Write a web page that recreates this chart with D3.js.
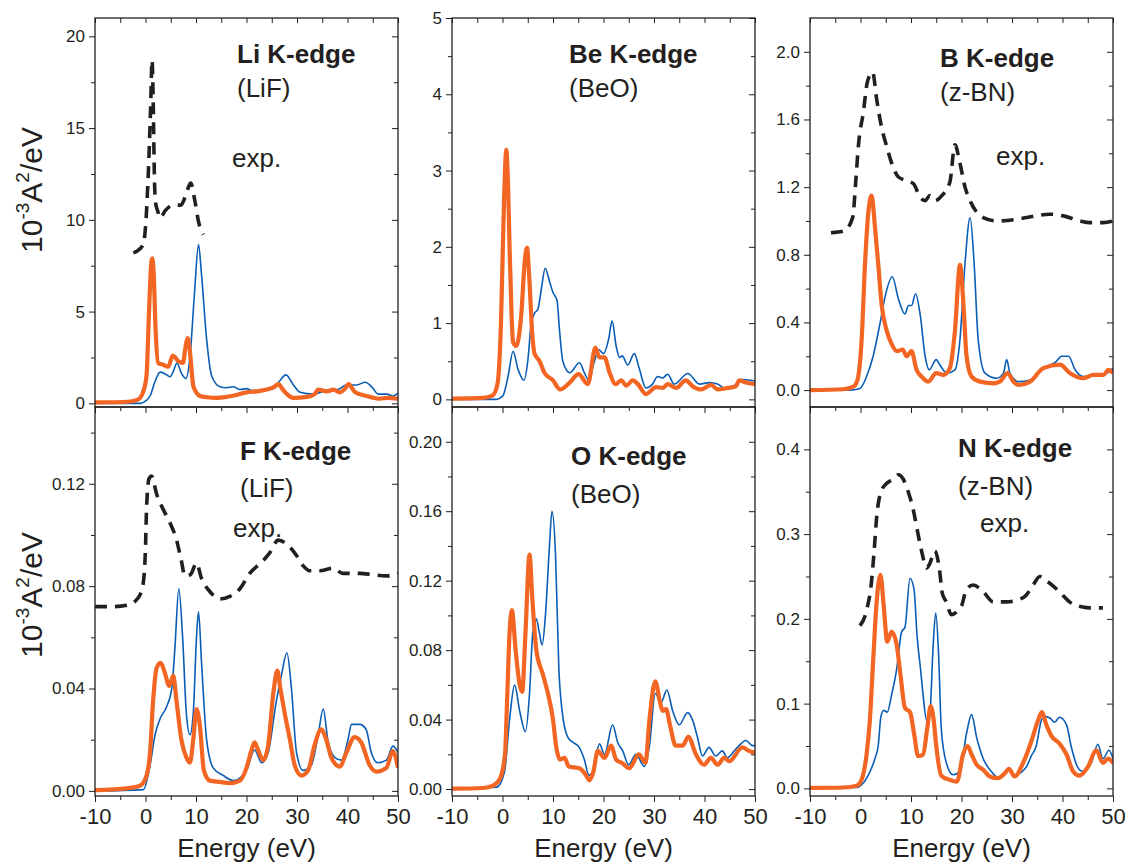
<!DOCTYPE html>
<html>
<head>
<meta charset="utf-8">
<script src="https://cdn.jsdelivr.net/npm/d3@7"></script>
<style>
  body { margin: 0; background: #fff; }
  svg { display: block; font-family: "Liberation Sans", Arial, sans-serif; }
</style>
</head>
<body>
<div id="chart"></div>
<script>
// energy axis (eV) shared by all panels
const energyDomain = [-10, 50];
const energyMajor = [-10, 0, 10, 20, 30, 40, 50];
const energyMinor = [-5, 5, 15, 25, 35, 45];

// Li K-edge (LiF)
const liTheory = [[-10,0.05],[-6,0.06],[-3,0.1],[-1.5,0.2],[-0.5,0.6],[0.2,1.5],[0.7,5],[1.1,7.5],[1.35,7.9],[1.6,7.2],[2.0,4],[2.5,2.2],[3.5,2.1],[4.5,2.0],[5.4,2.6],[6.5,2.3],[7.4,2.2],[8.0,3.2],[8.35,3.55],[8.8,2.8],[9.5,0.9],[10.8,0.4],[12.1,0.33],[14,0.3],[16,0.35],[18,0.45],[20,0.6],[22,0.65],[24,0.75],[25.5,0.9],[26.3,1.05],[27.2,0.75],[28,0.5],[29.3,0.3],[32,0.35],[33.5,0.5],[34.2,0.75],[35.9,0.65],[37.2,0.75],[38.5,0.6],[39.5,0.8],[40.2,1.05],[41.5,0.6],[43.8,0.4],[46.4,0.25],[47.8,0.3],[50,0.25]];
const liCore = [[-10,0],[-1,0],[-0.4,0.05],[0.9,0.4],[1.9,1.2],[2.9,1.7],[3.9,1.6],[4.85,1.45],[5.6,1.8],[6.2,2.2],[7.2,1.6],[8.0,1.35],[8.8,2.5],[9.7,6],[10.5,8.65],[11.1,7],[12.1,3.5],[13.1,1.5],[14.75,0.9],[16,0.85],[17.4,0.9],[18.7,0.75],[20,0.8],[21,0.7],[22.7,0.7],[25.3,0.8],[26.5,1.2],[27.8,1.55],[29.3,1.0],[30.6,0.6],[33.2,0.5],[35.9,0.7],[38,0.75],[39.8,1.0],[41.8,1.0],[43.5,1.15],[44.8,0.9],[46.1,0.5],[47.8,0.5],[49,0.4],[50,0.55]];
const liExp = [[-2.4,8.2],[-1.2,8.4],[-0.4,8.7],[0.1,10],[0.55,12.5],[1.0,16],[1.3,18.7],[1.55,16],[1.75,12.5],[1.95,11],[2.4,10.5],[2.9,10.1],[3.9,10.5],[5.5,10.8],[7,10.8],[7.8,11.2],[8.95,12.0],[9.8,11],[10.5,9.9],[11.45,9.2]];

// Be K-edge (BeO)
const beTheory = [[-10,0.01],[-4,0.02],[-2,0.05],[-1,0.2],[-0.3,1.0],[0.3,2.6],[0.75,3.27],[1.1,2.8],[1.4,2.0],[1.8,1.1],[2.1,0.75],[2.7,0.7],[3.7,1.1],[4.4,1.8],[4.85,1.99],[5.3,1.6],[5.9,0.85],[6.35,0.6],[7.35,0.5],[8.3,0.35],[10,0.25],[11.4,0.13],[13.3,0.22],[15.05,0.33],[16.9,0.2],[18.4,0.68],[19.2,0.55],[20.2,0.55],[21.2,0.35],[22.4,0.2],[23.5,0.25],[24.5,0.18],[25.8,0.25],[26.8,0.2],[28.4,0.07],[30.4,0.16],[31.7,0.15],[32.7,0.2],[34.4,0.15],[36.3,0.25],[37.7,0.17],[39.3,0.13],[41.3,0.19],[42.6,0.13],[44.6,0.15],[46.2,0.17],[46.9,0.25],[48.2,0.22],[50,0.2]];
const beCore = [[-10,0],[-1.2,0],[0.1,0.05],[1.1,0.3],[2.1,0.63],[3.05,0.4],[4.25,0.25],[5.0,0.5],[5.7,1.0],[6.35,1.13],[7.0,1.18],[7.7,1.45],[8.45,1.72],[9.3,1.55],[10,1.4],[10.8,1.3],[11.3,0.9],[11.95,0.5],[13.3,0.35],[15.25,0.48],[16.2,0.35],[17.1,0.25],[18.2,0.5],[19.1,0.65],[20,0.6],[21.05,0.8],[21.7,1.03],[22.5,0.7],[23.2,0.55],[23.7,0.57],[24.8,0.45],[26.1,0.6],[27.1,0.4],[28.4,0.15],[29.7,0.2],[30.7,0.3],[31.7,0.28],[32.7,0.33],[34,0.2],[36.7,0.34],[39,0.2],[41,0.22],[42.6,0.2],[43.9,0.15],[45.6,0.17],[47.5,0.26],[50,0.24]];

// B K-edge (z-BN)
const bTheory = [[-10,0],[-3.4,0.005],[-1.4,0.02],[-0.6,0.06],[0.23,0.3],[0.9,0.75],[1.55,1.05],[2.2,1.15],[2.9,0.95],[3.5,0.75],[4.2,0.5],[5.2,0.35],[6.2,0.27],[7.2,0.23],[8.35,0.24],[9.1,0.2],[10.1,0.23],[11.1,0.12],[12.1,0.08],[13.4,0.05],[15,0.1],[16.4,0.09],[17.7,0.13],[18.7,0.35],[19.7,0.74],[20.4,0.5],[21,0.2],[22,0.08],[23.7,0.05],[26.3,0.04],[27.6,0.05],[29.1,0.1],[30.3,0.05],[31.3,0.03],[33.6,0.05],[36.2,0.13],[39.5,0.15],[41.5,0.1],[44.1,0.07],[46.1,0.09],[48.1,0.09],[49.1,0.12],[50,0.1]];
const bCore = [[-10,0],[-2.1,0],[-0.1,0.01],[1.2,0.08],[2.5,0.2],[3.9,0.4],[4.85,0.55],[6.3,0.67],[7.5,0.54],[8.8,0.45],[9.5,0.5],[10.1,0.5],[10.9,0.57],[11.8,0.45],[12.8,0.2],[13.6,0.12],[15,0.18],[15.7,0.15],[17.1,0.1],[18.7,0.12],[19.7,0.3],[20.7,0.75],[21.7,1.02],[22.5,0.75],[23.3,0.3],[24.65,0.1],[27,0.07],[28.3,0.1],[28.95,0.18],[29.6,0.1],[31.3,0.05],[33.6,0.06],[36.2,0.13],[38.8,0.17],[39.8,0.2],[41.2,0.2],[42.5,0.12],[44.1,0.08],[46.8,0.09],[48.7,0.1],[50,0.13]];
const bExp = [[-5.85,0.93],[-3.3,0.94],[-1.55,1.02],[-0.9,1.25],[-0.4,1.45],[0.6,1.65],[1.35,1.82],[2.4,1.88],[3.2,1.72],[4.2,1.55],[5.2,1.44],[6.2,1.34],[7.5,1.26],[9,1.24],[10.5,1.22],[11.8,1.14],[12.8,1.12],[13.75,1.15],[14.75,1.12],[16.1,1.15],[17.7,1.23],[18.7,1.45],[19.7,1.34],[20.7,1.2],[21.7,1.12],[24.3,1.02],[27,1.0],[30.9,1.01],[32.9,1.02],[37.5,1.04],[40.2,1.03],[43.5,1.0],[45.4,0.99],[48.1,0.99],[50,1.0]];

// F K-edge (LiF)
const fTheory = [[-10,0.0003],[-3.7,0.001],[-1.1,0.002],[0.2,0.006],[0.9,0.015],[1.5,0.035],[2.2,0.048],[3.0,0.050],[3.85,0.046],[4.7,0.041],[5.5,0.045],[6.15,0.035],[7.1,0.02],[8.1,0.013],[8.8,0.011],[9.45,0.02],[10.1,0.032],[10.8,0.025],[11.55,0.008],[12.75,0.004],[14.7,0.0035],[16.7,0.003],[18.7,0.004],[20,0.009],[21,0.016],[21.6,0.019],[22.3,0.016],[23.3,0.012],[24.3,0.018],[25.3,0.038],[26.1,0.047],[26.7,0.04],[27.6,0.03],[28.6,0.02],[29.55,0.01],[30.9,0.006],[32.2,0.008],[33.5,0.018],[34.8,0.024],[35.8,0.02],[36.8,0.013],[38.45,0.0095],[39.8,0.015],[41.4,0.021],[42.7,0.019],[44.4,0.01],[45.7,0.0075],[47.7,0.009],[49,0.0155],[50,0.009]];
const fCore = [[-10,0],[-0.4,0.0005],[0.9,0.01],[1.9,0.022],[2.85,0.028],[4.2,0.033],[5.2,0.04],[5.8,0.055],[6.6,0.079],[7.35,0.06],[8.1,0.03],[8.8,0.022],[9.45,0.03],[10.1,0.06],[10.5,0.070],[11.1,0.05],[12.1,0.02],[13.4,0.009],[15.4,0.006],[17.4,0.004],[20,0.008],[21.6,0.016],[23,0.011],[24.3,0.015],[25.9,0.035],[26.9,0.045],[28.0,0.054],[28.9,0.04],[29.9,0.015],[31.2,0.008],[32.85,0.01],[34.2,0.022],[35.2,0.032],[36.1,0.02],[37.5,0.013],[38.8,0.012],[40.1,0.02],[40.8,0.026],[42.4,0.026],[43.7,0.024],[44.7,0.015],[46,0.011],[47.7,0.012],[49,0.0175],[50,0.015]];
const fExp = [[-10,0.072],[-6.4,0.072],[-3.7,0.0725],[-2.1,0.074],[-0.8,0.078],[-0.25,0.085],[0,0.095],[0.2,0.11],[0.7,0.122],[1.2,0.123],[2.2,0.116],[3.5,0.11],[4.8,0.105],[6.15,0.098],[7.1,0.09],[7.8,0.084],[8.9,0.0845],[10.1,0.089],[11.1,0.083],[12.7,0.078],[14.7,0.075],[16.7,0.076],[18.7,0.079],[20.65,0.085],[23.3,0.09],[24.6,0.093],[26.3,0.098],[27.9,0.0965],[29.9,0.092],[31.2,0.088],[32.5,0.086],[34.5,0.086],[37.1,0.087],[39.1,0.085],[42.4,0.085],[45,0.0845],[47.7,0.084],[50,0.085]];

// O K-edge (BeO)
const oTheory = [[-10,0.0002],[-3.9,0.0006],[-1.85,0.002],[-0.5,0.006],[0.5,0.02],[0.9,0.05],[1.4,0.09],[1.85,0.103],[2.6,0.08],[3.4,0.06],[3.9,0.056],[4.55,0.09],[5.35,0.135],[5.9,0.11],[6.7,0.08],[8,0.066],[9,0.055],[10,0.04],[10.6,0.025],[11.4,0.017],[12.3,0.018],[13.1,0.013],[15.2,0.012],[16.55,0.008],[17.2,0.005],[18,0.01],[18.85,0.022],[20.2,0.018],[21.5,0.025],[22.5,0.017],[23.7,0.015],[25.1,0.012],[27,0.02],[28.3,0.015],[29.1,0.04],[30.25,0.062],[31.2,0.05],[31.7,0.045],[32.4,0.046],[33.15,0.037],[34.3,0.025],[35.65,0.025],[36.8,0.03],[38.3,0.02],[39.9,0.014],[41.25,0.018],[42.6,0.014],[43.9,0.018],[44.9,0.016],[47.5,0.024],[48.8,0.022],[50,0.021]];
const oCore = [[-10,0],[-1.2,0.001],[0.4,0.01],[1.4,0.04],[2.4,0.06],[3.4,0.045],[4.55,0.033],[5.35,0.055],[6,0.09],[6.7,0.098],[7.3,0.09],[7.85,0.083],[8.5,0.1],[9.3,0.14],[9.8,0.16],[10.5,0.135],[11.15,0.07],[11.8,0.045],[12.9,0.03],[13.9,0.027],[15.2,0.024],[16.2,0.017],[17.1,0.008],[17.9,0.01],[19.2,0.026],[20.2,0.02],[21.8,0.037],[22.8,0.027],[23.8,0.022],[25,0.014],[26.4,0.02],[28.1,0.013],[29.1,0.025],[30.25,0.055],[31.4,0.05],[32.55,0.057],[33.7,0.045],[35,0.037],[36.65,0.044],[37.6,0.04],[38.6,0.03],[39.6,0.019],[40.9,0.024],[42.2,0.019],[43.55,0.022],[44.5,0.018],[46.2,0.023],[48.2,0.028],[49.5,0.025],[50,0.025]];

// N K-edge (z-BN)
const nTheory = [[-10,0.0005],[-3.4,0.001],[-0.8,0.003],[0.2,0.01],[1.2,0.04],[1.85,0.08],[2.5,0.15],[3.2,0.22],[3.95,0.252],[4.6,0.215],[5.3,0.173],[6.15,0.185],[7.15,0.17],[7.9,0.135],[8.8,0.095],[9.8,0.09],[10.6,0.065],[11.4,0.038],[12.4,0.04],[13.2,0.07],[13.9,0.097],[14.5,0.08],[15,0.05],[16,0.015],[17.7,0.01],[19.1,0.008],[20.3,0.04],[21.2,0.05],[22,0.04],[23,0.028],[24.3,0.022],[25.6,0.014],[27.2,0.012],[28.6,0.018],[29.4,0.023],[30.5,0.014],[32.2,0.03],[33.8,0.055],[35.15,0.08],[35.9,0.09],[36.8,0.075],[37.8,0.062],[39.4,0.053],[40.8,0.04],[42.1,0.02],[43.4,0.015],[45,0.025],[46.7,0.045],[48,0.03],[49,0.035],[50,0.03]];
const nCore = [[-10,0],[-0.8,0.001],[0.2,0.004],[1.5,0.015],[2.85,0.035],[3.5,0.05],[4.05,0.085],[4.6,0.092],[5.3,0.09],[6.15,0.11],[7.15,0.14],[8.15,0.185],[8.8,0.19],[9.8,0.248],[10.6,0.235],[11.2,0.18],[11.9,0.14],[12.4,0.11],[13.1,0.08],[13.7,0.085],[14.4,0.17],[14.9,0.207],[15.45,0.16],[16,0.07],[17,0.03],[18.35,0.016],[19.7,0.02],[21,0.065],[22,0.087],[23,0.06],[24.3,0.035],[25.9,0.02],[27.2,0.013],[28.6,0.018],[29.4,0.023],[30.5,0.016],[32.8,0.025],[33.8,0.038],[34.8,0.05],[35.8,0.08],[36.5,0.085],[37.5,0.083],[38.45,0.078],[39.4,0.084],[40.8,0.075],[41.7,0.05],[43,0.025],[44,0.02],[45.7,0.03],[47,0.052],[48,0.035],[49.2,0.045],[50,0.035]];
const nExp = [[-0.1,0.192],[1.2,0.21],[2.2,0.245],[2.7,0.28],[3.2,0.32],[4.05,0.35],[5.2,0.36],[6.5,0.365],[7.5,0.37],[8.45,0.365],[9.45,0.35],[10.4,0.33],[11.4,0.3],[12.1,0.28],[13.1,0.26],[13.7,0.265],[14.7,0.28],[15.6,0.26],[16.2,0.23],[17,0.22],[18,0.205],[19,0.208],[20,0.215],[21,0.235],[22.3,0.24],[24.3,0.232],[26.3,0.22],[28.9,0.22],[30.9,0.222],[32.8,0.228],[34.2,0.24],[35.5,0.25],[36.8,0.245],[39.4,0.232],[41.4,0.22],[44,0.214],[45.4,0.213],[48,0.213]];

const W = 1129, H = 867;
const ORANGE = "#f26522", BLUE = "#0a5db4", INK = "#231f20";

const svg = d3.select("#chart").append("svg")
    .attr("width", W).attr("height", H);
svg.append("rect").attr("width", W).attr("height", H).attr("fill", "#fff");

const colX = [95, 452, 810];
const rowY = [18, 407];
const pw = 303, ph = 389;

// plain hyphen for negative numbers, as in the original figure
const hyph = f => v => f(v).replace("\u2212", "-");

const panels = [
  { col: 0, row: 0, dom: [-0.2, 21], major: [0, 5, 10, 15, 20], minor: [2.5, 7.5, 12.5, 17.5], fmt: d3.format("d"),
    theory: liTheory, core: liCore, exp: liExp,
    title: "Li K-edge", sub: "(LiF)", tx: 237, ty: 63, sy: 97, expAt: [232, 167] },
  { col: 1, row: 0, dom: [-0.1, 5], major: [0, 1, 2, 3, 4, 5], minor: [0.5, 1.5, 2.5, 3.5, 4.5], fmt: d3.format("d"),
    theory: beTheory, core: beCore, exp: null,
    title: "Be K-edge", sub: "(BeO)", tx: 569, ty: 63, sy: 97 },
  { col: 2, row: 0, dom: [-0.1, 2.2], major: [0, 0.4, 0.8, 1.2, 1.6, 2.0], minor: [0.2, 0.6, 1.0, 1.4, 1.8], fmt: d3.format(".1f"),
    theory: bTheory, core: bCore, exp: bExp,
    title: "B K-edge", sub: "(z-BN)", tx: 940, ty: 67, sy: 101, expAt: [996, 165] },
  { col: 0, row: 1, dom: [-0.002, 0.15], major: [0, 0.04, 0.08, 0.12], minor: [0.02, 0.06, 0.10, 0.14], fmt: d3.format(".2f"),
    theory: fTheory, core: fCore, exp: fExp,
    title: "F K-edge", sub: "(LiF)", tx: 240, ty: 460, sy: 497, expAt: [233, 537] },
  { col: 1, row: 1, dom: [-0.004, 0.22], major: [0, 0.04, 0.08, 0.12, 0.16, 0.20], minor: [0.02, 0.06, 0.10, 0.14, 0.18], fmt: d3.format(".2f"),
    theory: oTheory, core: oCore, exp: null,
    title: "O K-edge", sub: "(BeO)", tx: 571, ty: 465, sy: 503 },
  { col: 2, row: 1, dom: [-0.009, 0.45], major: [0, 0.1, 0.2, 0.3, 0.4], minor: [0.05, 0.15, 0.25, 0.35], fmt: d3.format(".1f"),
    theory: nTheory, core: nCore, exp: nExp,
    title: "N K-edge", sub: "(z-BN)", tx: 958, ty: 457, sy: 495, expAt: [980, 532] }
];

function styleAxis(g) {
  g.select(".domain").remove();
  g.selectAll(".tick line").attr("stroke", INK).attr("stroke-width", 1);
  g.selectAll(".tick text").attr("fill", INK);
}

panels.forEach((p, i) => {
  const x0 = colX[p.col], y0 = rowY[p.row];
  const x = d3.scaleLinear().domain(energyDomain).range([0, pw]);
  const y = d3.scaleLinear().domain(p.dom).range([ph, 0]);
  const g = svg.append("g").attr("transform", `translate(${x0},${y0})`);

  g.append("clipPath").attr("id", "clip" + i)
    .append("rect").attr("width", pw).attr("height", ph);

  const line = d3.line().x(d => x(d[0])).y(d => y(d[1])).curve(d3.curveMonotoneX);
  const plot = g.append("g").attr("clip-path", `url(#clip${i})`);

  if (p.exp) {
    plot.append("path").datum(p.exp)
      .attr("d", line).attr("fill", "none")
      .attr("stroke", INK).attr("stroke-width", 3.6)
      .attr("stroke-dasharray", "12,8");
  }
  plot.append("path").datum(p.core)
    .attr("d", line).attr("fill", "none")
    .attr("stroke", BLUE).attr("stroke-width", 1.6);
  plot.append("path").datum(p.theory)
    .attr("d", line).attr("fill", "none")
    .attr("stroke", ORANGE).attr("stroke-width", 4.2)
    .attr("stroke-linejoin", "round");

  // left axis: ticks outward
  g.append("g").call(d3.axisLeft(y).tickValues(p.major).tickFormat(p.fmt).tickSize(6).tickPadding(4).tickSizeOuter(0))
    .call(styleAxis)
    .selectAll(".tick text").style("font-size", "17px");
  g.append("g").call(d3.axisLeft(y).tickValues(p.minor).tickFormat("").tickSize(4).tickSizeOuter(0)).call(styleAxis);

  // right axis: ticks inward
  g.append("g").attr("transform", `translate(${pw},0)`)
    .call(d3.axisRight(y).tickValues(p.major).tickFormat("").tickSize(-6).tickSizeOuter(0)).call(styleAxis);
  g.append("g").attr("transform", `translate(${pw},0)`)
    .call(d3.axisRight(y).tickValues(p.minor).tickFormat("").tickSize(-4).tickSizeOuter(0)).call(styleAxis);

  // top axis of the upper row: ticks inward
  if (p.row === 0) {
    g.append("g").call(d3.axisTop(x).tickValues(energyMajor.concat(energyMinor)).tickFormat("").tickSize(-5).tickSizeOuter(0)).call(styleAxis);
  }

  // bottom axis: ticks outward, labels only on lower row
  const bottom = g.append("g").attr("transform", `translate(0,${ph})`);
  bottom.append("g").call(d3.axisBottom(x).tickValues(energyMajor)
      .tickFormat(p.row === 1 ? hyph(d3.format("d")) : "").tickSize(6).tickPadding(6).tickSizeOuter(0))
    .call(styleAxis)
    .selectAll(".tick text").style("font-size", "22px");
  bottom.append("g").call(d3.axisBottom(x).tickValues(energyMinor).tickFormat("").tickSize(4).tickSizeOuter(0)).call(styleAxis);

  g.append("rect").attr("width", pw).attr("height", ph)
    .attr("fill", "none").attr("stroke", INK).attr("stroke-width", 1.3);

  if (p.row === 1) {
    g.append("text").attr("x", pw / 2).attr("y", 857 - y0)
      .attr("text-anchor", "middle").attr("fill", INK)
      .style("font-size", "26px").text("Energy (eV)");
  }

  // panel labels
  svg.append("text").attr("x", p.tx).attr("y", p.ty).attr("fill", INK)
    .style("font-size", "26px").style("font-weight", "bold").text(p.title);
  svg.append("text").attr("x", p.tx).attr("y", p.sy).attr("fill", INK)
    .style("font-size", "26px").text(p.sub);
  if (p.expAt) {
    svg.append("text").attr("x", p.expAt[0]).attr("y", p.expAt[1]).attr("fill", INK)
      .style("font-size", "26px").text("exp.");
  }
});

// y axis titles
[[42, 190], [42, 595]].forEach(([tx, ty]) => {
  const t = svg.append("text")
    .attr("transform", `translate(${tx},${ty}) rotate(-90)`)
    .attr("text-anchor", "middle").attr("fill", INK)
    .style("font-size", "30px");
  t.append("tspan").text("10");
  t.append("tspan").attr("dy", -13).style("font-size", "19px").text("-3");
  t.append("tspan").attr("dy", 13).text("A");
  t.append("tspan").attr("dy", -13).style("font-size", "19px").text("2");
  t.append("tspan").attr("dy", 13).text("/eV");
});
</script>
</body>
</html>
